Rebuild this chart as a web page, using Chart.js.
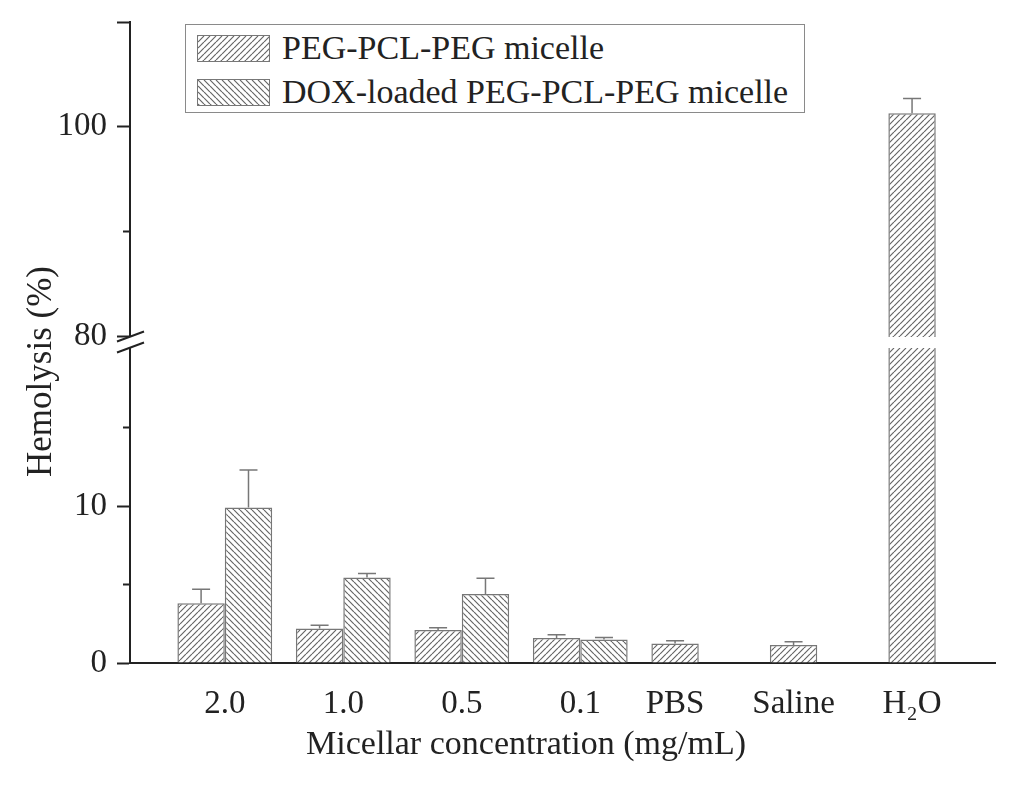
<!DOCTYPE html>
<html lang="en">
  <head>
    <meta charset="UTF-8" />
    <title>Hemolysis of PEG-PCL-PEG micelles</title>
    <script src="https://cdn.jsdelivr.net/npm/chart.js"></script>
    <style>
      body {
        margin: 0;
        background: #fff;
      }
      #wrap {
        position: relative;
        width: 1024px;
        height: 791px;
      }
      #legend {
        position: absolute;
        left: 185px;
        top: 24px;
        width: 620px;
        height: 89px;
        box-sizing: border-box;
        border: 1.5px solid #8a8a8a;
        padding: 1px 0 0 11px;
        font-family: "Liberation Serif", "Times New Roman", serif;
        font-size: 34px;
        color: #222;
        background: #fff;
      }
      .row {
        display: flex;
        align-items: center;
        height: 44px;
      }
      .swatch {
        width: 73px;
        height: 27px;
        box-sizing: border-box;
        border: 1px solid #777;
        margin-right: 12px;
        background-color: #fff;
      }
    </style>
  </head>
  <body>
    <div id="wrap">
      <canvas id="hemolysisChart" width="1024" height="791"></canvas>
      <div id="legend"></div>
    </div>
    <script>
      // values (Hemolysis %)
      const categories = ["2.0", "1.0", "0.5", "0.1", "PBS", "Saline", "H\u2082O"];
      const seriesNames = ["PEG-PCL-PEG micelle", "DOX-loaded PEG-PCL-PEG micelle"];
      const micelle = [3.8, 2.2, 2.1, 1.6, 1.25, 1.15, 101.3];
      const micelleErr = [0.9, 0.2, 0.15, 0.2, 0.17, 0.2, 1.4];
      const doxMicelle = [9.9, 5.45, 4.4, 1.5, null, null, null];
      const doxMicelleErr = [2.4, 0.25, 1.0, 0.12, null, null, null];

      // broken y axis: lower and upper segments
      const lowRange = [0, 20.45];
      const highRange = [79.45, 110];
      const lowTicks = [0, 10];
      const lowMinor = [5, 15];
      const highTicks = [80, 100, 110];
      const highMinor = [90];
      const unlabeledTicks = [110];

      const catPct = 0.8;
      const FONT = "'Liberation Serif', 'Times New Roman', serif";
      const INK = "#222";

      function hatch(dir) {
        const s = 6;
        const c = document.createElement("canvas");
        c.width = s;
        c.height = s;
        const g = c.getContext("2d");
        g.fillStyle = "#fff";
        g.fillRect(0, 0, s, s);
        g.strokeStyle = "#666";
        g.lineWidth = 1.2;
        g.beginPath();
        for (let k = -1; k <= 1; k++) {
          if (dir > 0) {
            g.moveTo(k * s, s);
            g.lineTo(k * s + s, 0);
          } else {
            g.moveTo(k * s, 0);
            g.lineTo(k * s + s, s);
          }
        }
        g.stroke();
        return c;
      }

      const canvas = document.getElementById("hemolysisChart");
      const tiles = [hatch(1), hatch(-1)];
      const patterns = tiles.map((t) => canvas.getContext("2d").createPattern(t, "repeat"));

      // legend as html
      const legend = document.getElementById("legend");
      seriesNames.forEach((name, i) => {
        const row = document.createElement("div");
        row.className = "row";
        const sw = document.createElement("span");
        sw.className = "swatch";
        sw.style.backgroundImage = "url(" + tiles[i].toDataURL() + ")";
        row.appendChild(sw);
        row.appendChild(document.createTextNode(name));
        legend.appendChild(row);
      });

      function points(values, errors, keep) {
        return values
          .map((v, i) => ({ x: i, y: v, err: errors[i] }))
          .filter((p) => p.y !== null && keep(p.y));
      }

      const barStyle = {
        borderColor: "#777",
        borderWidth: 1.5,
        categoryPercentage: catPct,
        barPercentage: 1,
      };

      const datasets = [
        Object.assign({
          label: seriesNames[0],
          data: points(micelle, micelleErr, () => true),
          backgroundColor: patterns[0],
          yAxisID: "yLow",
          stack: "a",
        }, barStyle),
        Object.assign({
          label: seriesNames[1],
          data: points(doxMicelle, doxMicelleErr, () => true),
          backgroundColor: patterns[1],
          yAxisID: "yLow",
          stack: "b",
        }, barStyle),
        Object.assign({
          label: seriesNames[0],
          data: points(micelle, micelleErr, (v) => v > lowRange[1]),
          backgroundColor: patterns[0],
          yAxisID: "yHigh",
          stack: "a",
        }, barStyle),
      ];

      // clip each dataset to its own y segment, leaving a gap at the break
      const segmentClip = {
        id: "segmentClip",
        beforeDatasetDraw(chart, args) {
          const ds = chart.data.datasets[args.index];
          const s = chart.scales[ds.yAxisID];
          const { ctx, chartArea } = chart;
          const high = ds.yAxisID === "yHigh";
          const top = high ? s.top - 2 : s.top + 6;
          const bottom = high ? s.bottom - 5 : s.bottom + 2;
          ctx.save();
          ctx.beginPath();
          ctx.rect(chartArea.left, top, chartArea.width, bottom - top);
          ctx.clip();
        },
        afterDatasetDraw(chart) {
          chart.ctx.restore();
        },
      };

      const errorBars = {
        id: "errorBars",
        afterDatasetsDraw(chart) {
          const ctx = chart.ctx;
          chart.data.datasets.forEach((ds, i) => {
            const meta = chart.getDatasetMeta(i);
            const ys = chart.scales[ds.yAxisID];
            ctx.save();
            ctx.strokeStyle = "#777";
            ctx.lineWidth = 1.5;
            meta.data.forEach((bar, j) => {
              const p = ds.data[j];
              if (p.err == null || p.y > ys.max) return;
              const yTop = ys.getPixelForValue(p.y + p.err);
              ctx.beginPath();
              ctx.moveTo(bar.x, bar.y);
              ctx.lineTo(bar.x, yTop);
              ctx.moveTo(bar.x - 9, yTop);
              ctx.lineTo(bar.x + 9, yTop);
              ctx.stroke();
            });
            ctx.restore();
          });
        },
      };

      const axisBreak = {
        id: "axisBreak",
        afterDraw(chart) {
          const { ctx, chartArea } = chart;
          const x0 = chartArea.left;
          const b = chart.scales.yLow.top;
          ctx.save();
          // minor ticks
          ctx.strokeStyle = INK;
          ctx.lineWidth = 2;
          ctx.beginPath();
          [["yLow", lowMinor], ["yHigh", highMinor]].forEach(([id, vals]) => {
            vals.forEach((v) => {
              const y = chart.scales[id].getPixelForValue(v);
              ctx.moveTo(x0 - 7, y);
              ctx.lineTo(x0, y);
            });
          });
          ctx.stroke();
          // break marks
          ctx.fillStyle = "#fff";
          ctx.fillRect(x0 - 3, b - 5, 6, 10);
          ctx.beginPath();
          [-5.5, 5.5].forEach((d) => {
            ctx.moveTo(x0 - 13, b + d + 5);
            ctx.lineTo(x0 + 14, b + d - 5);
          });
          ctx.stroke();
          ctx.restore();
        },
      };

      // axis titles in the original sit a bit off the axis centres
      const titleShift = {
        id: "titleShift",
        afterLayout(chart) {
          const yt = chart.scales.yTitle;
          yt.top = chart.chartArea.top + 58;
          const xl = chart.scales.xLabels;
          xl.right = xl.right - 73;
        },
      };

      const yAxis = (range, ticks, weight) => ({
        type: "linear",
        position: "left",
        stack: "hemo",
        stackWeight: weight,
        stacked: false,
        min: range[0],
        max: range[1],
        afterBuildTicks: (s) => {
          s.ticks = ticks.map((v) => ({ value: v }));
        },
        afterFit: (s) => {
          s.width = 78;
        },
        border: { display: true, color: INK, width: 2 },
        grid: {
          drawOnChartArea: false,
          drawTicks: true,
          tickLength: 13,
          tickColor: INK,
          tickWidth: 2,
        },
        ticks: {
          padding: 10,
          color: INK,
          font: { family: FONT, size: 33, lineHeight: 0.7 },
          callback: (v) => (unlabeledTicks.includes(v) ? "" : String(v)),
        },
      });

      const xRange = [-0.8, 6.5];

      new Chart(canvas, {
        type: "bar",
        data: { datasets: datasets },
        options: {
          responsive: false,
          animation: false,
          layout: { padding: { top: 22, right: 29, bottom: 26, left: 0 } },
          plugins: {
            legend: { display: false },
            tooltip: { enabled: false },
          },
          scales: {
            x: {
              type: "linear",
              offset: false,
              min: xRange[0],
              max: xRange[1],
              afterBuildTicks: (s) => {
                s.ticks = categories.map((c, i) => ({ value: i }));
              },
              afterFit: (s) => {
                s.height = 0;
              },
              ticks: { display: false },
              grid: { display: false, drawTicks: false },
              border: { display: true, color: INK, width: 2 },
            },
            yLow: yAxis(lowRange, lowTicks, 321),
            yHigh: yAxis(highRange, highTicks, 320),
            xLabels: {
              type: "linear",
              position: "bottom",
              offset: false,
              min: xRange[0],
              max: xRange[1],
              // label sits under the bar when the group has a single bar
              afterBuildTicks: (s) => {
                s.ticks = categories.map((c, i) => ({
                  value: doxMicelle[i] === null ? i - catPct / 4 : i,
                }));
              },
              afterFit: (s) => {
                s.height = 102;
              },
              grid: { display: false, drawTicks: false },
              border: { display: false },
              ticks: {
                autoSkip: false,
                maxRotation: 0,
                padding: 22,
                color: INK,
                font: { family: FONT, size: 33 },
                callback: (v, i) => categories[i],
              },
              title: {
                display: true,
                text: "Micellar concentration (mg/mL)",
                color: INK,
                font: { family: FONT, size: 34 },
                padding: { top: 6, bottom: 0 },
              },
            },
            yTitle: {
              type: "linear",
              position: "left",
              ticks: { display: false },
              grid: { display: false, drawTicks: false },
              border: { display: false },
              afterFit: (s) => {
                s.width = 52;
              },
              title: {
                display: true,
                text: "Hemolysis (%)",
                color: INK,
                font: { family: FONT, size: 35 },
                padding: { top: 21, bottom: 4 },
              },
            },
          },
        },
        plugins: [segmentClip, errorBars, axisBreak, titleShift],
      });
    </script>
  </body>
</html>
